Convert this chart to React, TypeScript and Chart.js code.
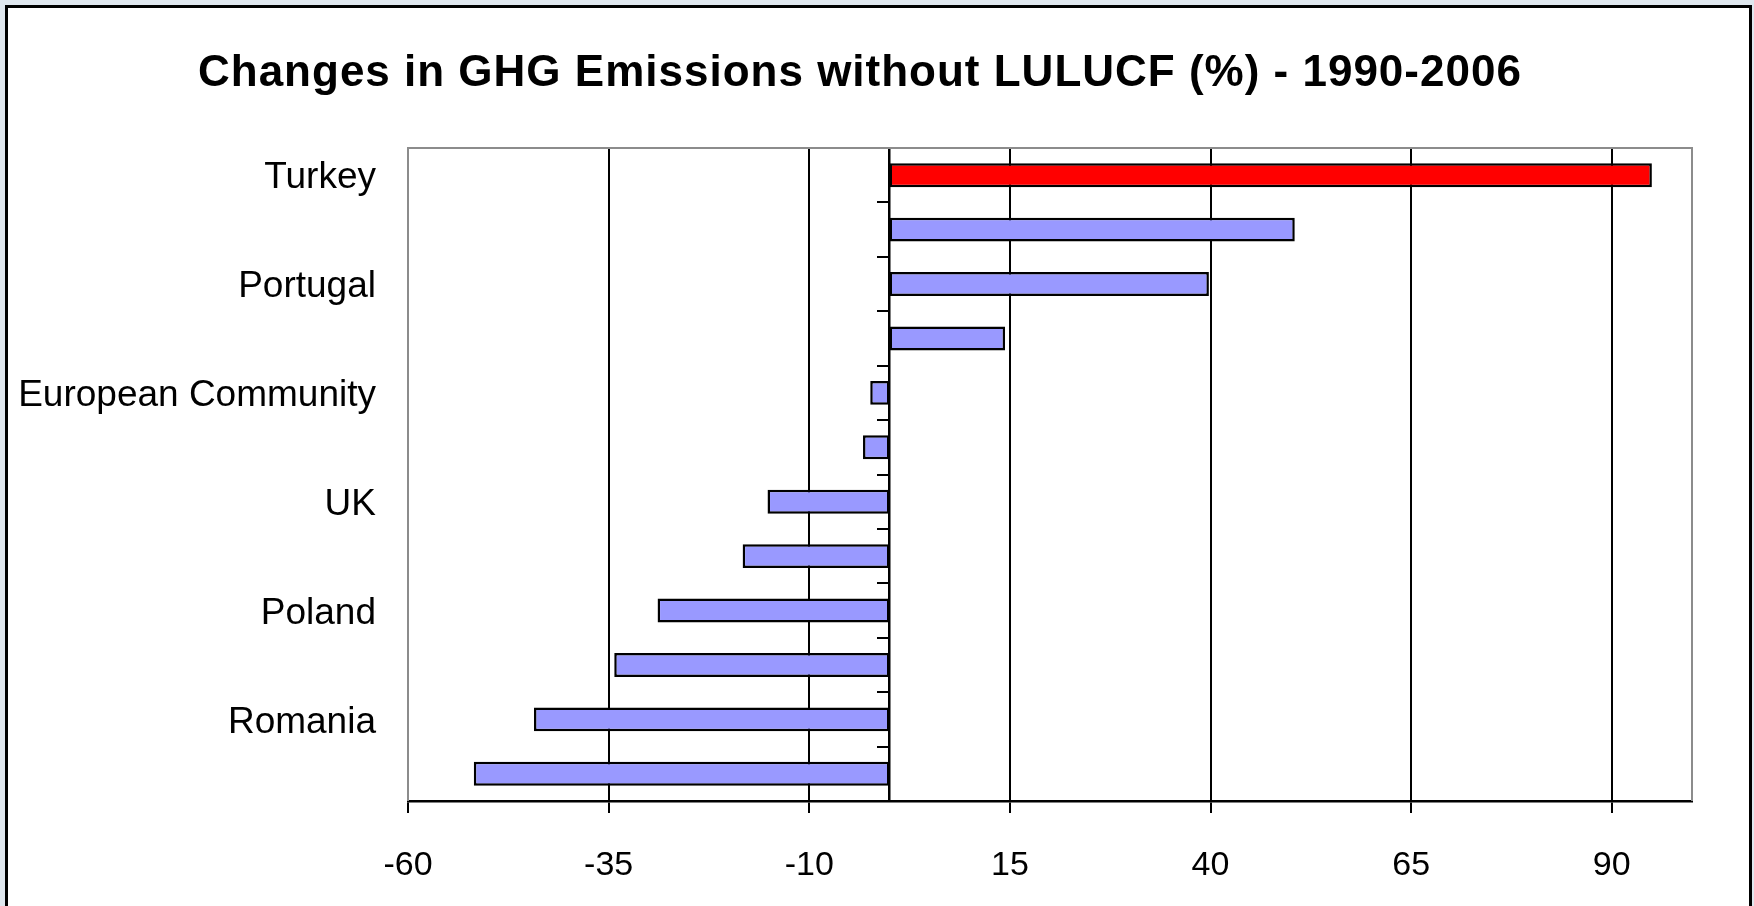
import React, { useEffect, useRef } from "react";
import { Chart, registerables } from "chart.js";

Chart.register(...registerables);

const W = 1754;
const H = 906;
const FONT = '"Liberation Sans", Arial, sans-serif';

const TITLE = "Changes in GHG Emissions without LULUCF (%) - 1990-2006";
// category labels (only every other category is labelled in the original)
const categories = [
  "Turkey",
  "",
  "Portugal",
  "",
  "European Community",
  "",
  "UK",
  "",
  "Poland",
  "",
  "Romania",
  "",
];
const values = [95.0, 50.5, 39.8, 14.4, -2.4, -3.3, -15.2, -18.3, -28.9, -34.3, -44.3, -51.8];
const highlighted = ["Turkey"];
const xTicks = [-60, -35, -10, 15, 40, 65, 90];
const xMin = -60;
const xMax = 100;

const framePlugin = {
  id: "frame",
  beforeDraw(chart: any) {
    const ctx = chart.ctx;
    ctx.save();
    ctx.fillStyle = "#dfe7ee";
    ctx.fillRect(0, 0, W, H);
    ctx.fillStyle = "#ffffff";
    ctx.fillRect(6.5, 6.5, 1744, 940);
    ctx.strokeStyle = "#000000";
    ctx.lineWidth = 3;
    ctx.strokeRect(6.5, 6.5, 1744, 940);
    ctx.fillStyle = "#000000";
    ctx.font = `bold 44px ${FONT}`;
    try {
      ctx.letterSpacing = "1px";
    } catch (e) {}
    ctx.textAlign = "left";
    ctx.textBaseline = "alphabetic";
    ctx.fillText(TITLE, 198, 86);
    ctx.restore();
  },
  beforeDatasetsDraw(chart: any) {
    const { left, top, right, bottom } = chart.chartArea;
    const ctx = chart.ctx;
    ctx.save();
    ctx.strokeStyle = "#8c8c8c";
    ctx.lineWidth = 2;
    ctx.beginPath();
    ctx.moveTo(left, bottom);
    ctx.lineTo(left, top);
    ctx.lineTo(right, top);
    ctx.lineTo(right, bottom);
    ctx.stroke();
    ctx.restore();
  },
};

export default function App() {
  const ref = useRef<HTMLCanvasElement | null>(null);

  useEffect(() => {
    if (!ref.current) return;
    const chart = new Chart(ref.current, {
      type: "bar",
      data: {
        labels: categories,
        datasets: [
          {
            data: values,
            backgroundColor: categories.map((c) => (highlighted.includes(c) ? "#FF0000" : "#9999FF")),
            borderColor: "#000000",
            borderWidth: 2.5,
            borderSkipped: false,
            barPercentage: 0.44,
            categoryPercentage: 1,
          },
        ],
      },
      options: {
        indexAxis: "y",
        responsive: false,
        animation: false,
        devicePixelRatio: 1,
        layout: { padding: { top: 148, right: 62, left: 0, bottom: 0 } },
        plugins: {
          legend: { display: false },
          title: { display: false },
          tooltip: { enabled: false },
        },
        scales: {
          x: {
            type: "linear",
            min: xMin,
            max: xMax,
            afterBuildTicks: (scale: any) => {
              scale.ticks = xTicks.map((v) => ({ value: v }));
            },
            afterFit: (scale: any) => {
              scale.height = H - 801;
            },
            grid: {
              color: (ctx: any) => (ctx.tick && ctx.tick.value === xMin ? "rgba(0,0,0,0)" : "#000000"),
              tickColor: "#000000",
              lineWidth: 2,
              tickLength: 12,
              drawTicks: true,
            },
            border: { display: true, color: "#000000", width: 2.5 },
            ticks: {
              color: "#000000",
              font: { family: FONT, size: 34 },
              padding: 32,
              autoSkip: false,
              maxRotation: 0,
              callback: (v: any) => String(v),
            },
          },
          y: {
            type: "category",
            position: "left",
            afterFit: (scale: any) => {
              scale.width = 408;
            },
            grid: { display: false, drawTicks: false },
            border: { display: false },
            ticks: {
              color: "#000000",
              font: { family: FONT, size: 37 },
              padding: 32,
              labelOffset: 3,
              autoSkip: false,
              callback: (_v: any, i: number) => categories[i],
            },
          },
          y2: {
            type: "category",
            labels: categories,
            position: { x: 0 } as any,
            offset: true,
            grid: {
              offset: true,
              drawOnChartArea: false,
              drawTicks: true,
              tickLength: 11,
              color: "#000000",
              lineWidth: 2,
            },
            border: { display: true, color: "#000000", width: 2.5 },
            ticks: { display: false },
          },
        } as any,
      },
      plugins: [framePlugin],
    });
    return () => chart.destroy();
  }, []);

  return (
    <div style={{ position: "fixed", left: 0, top: 0, width: W, height: H, overflow: "hidden" }}>
      <canvas ref={ref} width={W} height={H} style={{ display: "block", width: W, height: H }} />
    </div>
  );
}
